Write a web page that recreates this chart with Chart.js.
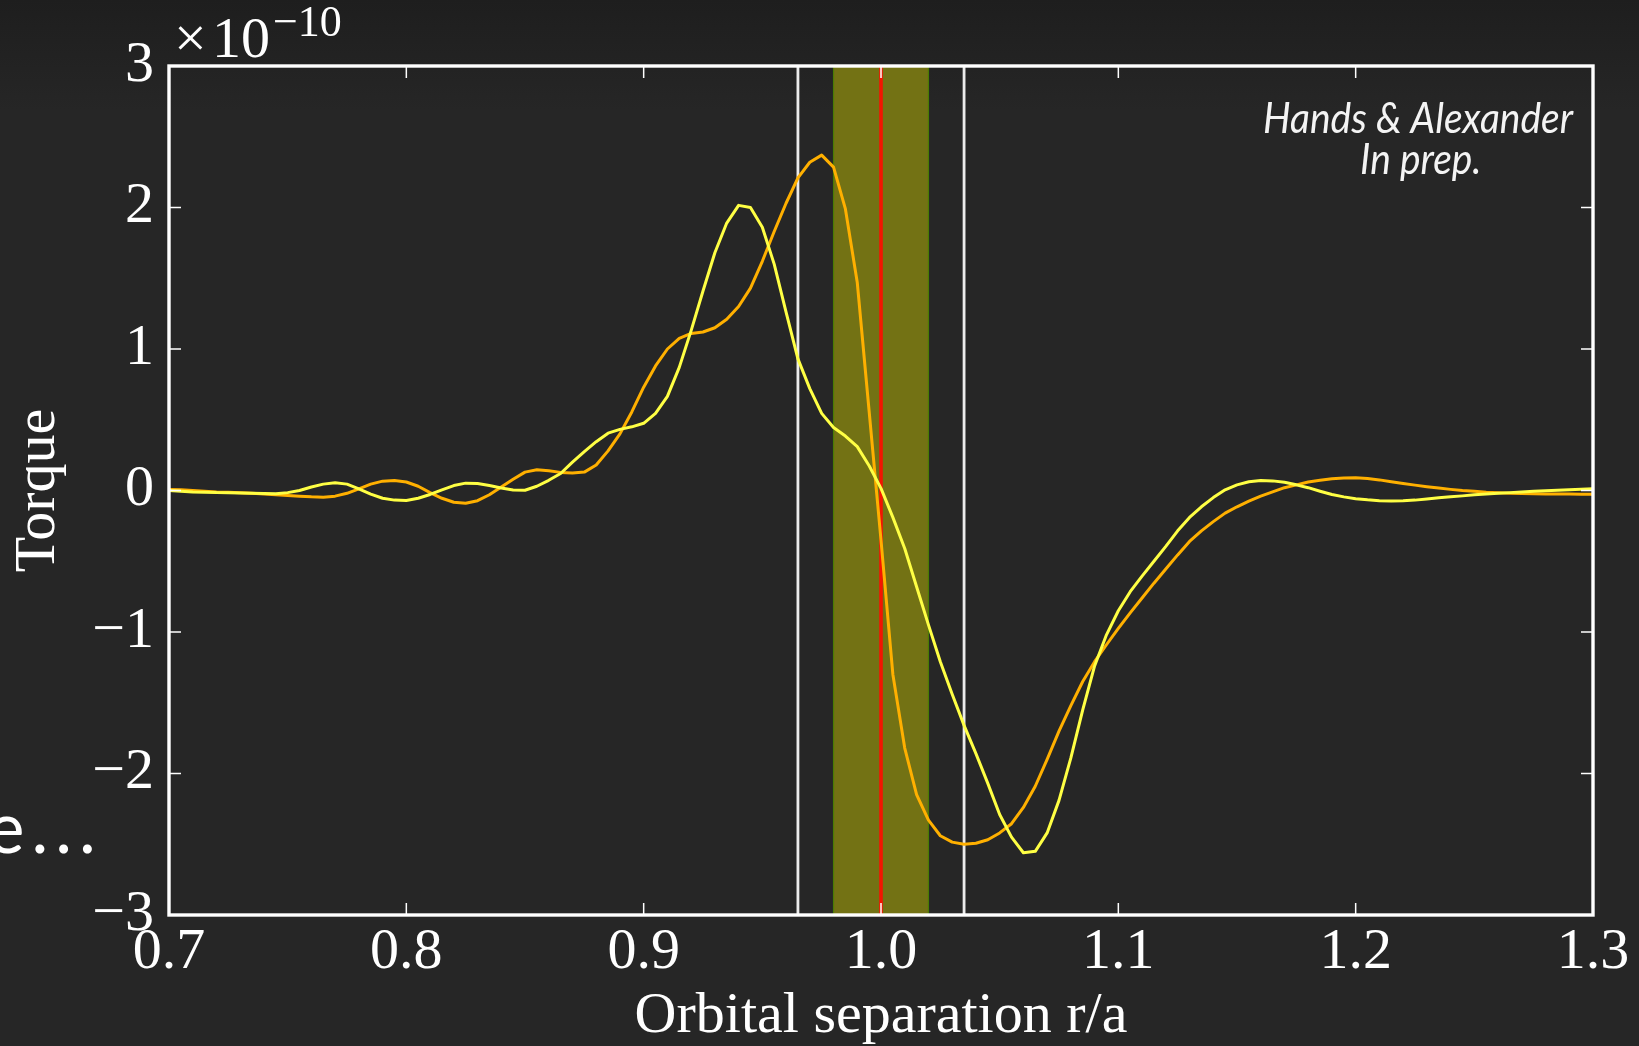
<!DOCTYPE html>
<html>
<head>
<meta charset="utf-8">
<title>Torque vs orbital separation</title>
<script src="https://cdn.jsdelivr.net/npm/chart.js@4.4.1/dist/chart.umd.min.js"></script>
<style>
  html, body { margin: 0; padding: 0; background: #262626; overflow: hidden; }
  #wrap { width: 1639px; height: 1046px; }
</style>
</head>
<body>
<div id="wrap"><canvas id="torqueChart" width="1639" height="1046"></canvas></div>
<script>
/* ---------------- DATA ---------------- */

// orbital separation r/a, sampled every 0.005
const separation = [
  0.700, 0.705, 0.710, 0.715, 0.720, 0.725, 0.730, 0.735, 0.740, 0.745,
  0.750, 0.755, 0.760, 0.765, 0.770, 0.775, 0.780, 0.785, 0.790, 0.795,
  0.800, 0.805, 0.810, 0.815, 0.820, 0.825, 0.830, 0.835, 0.840, 0.845,
  0.850, 0.855, 0.860, 0.865, 0.870, 0.875, 0.880, 0.885, 0.890, 0.895,
  0.900, 0.905, 0.910, 0.915, 0.920, 0.925, 0.930, 0.935, 0.940, 0.945,
  0.950, 0.955, 0.960, 0.965, 0.970, 0.975, 0.980, 0.985, 0.990, 0.995,
  1.000, 1.005, 1.010, 1.015, 1.020, 1.025, 1.030, 1.035, 1.040, 1.045,
  1.050, 1.055, 1.060, 1.065, 1.070, 1.075, 1.080, 1.085, 1.090, 1.095,
  1.100, 1.105, 1.110, 1.115, 1.120, 1.125, 1.130, 1.135, 1.140, 1.145,
  1.150, 1.155, 1.160, 1.165, 1.170, 1.175, 1.180, 1.185, 1.190, 1.195,
  1.200, 1.205, 1.210, 1.215, 1.220, 1.225, 1.230, 1.235, 1.240, 1.245,
  1.250, 1.255, 1.260, 1.265, 1.270, 1.275, 1.280, 1.285, 1.290, 1.295,
  1.300
];

// torque in units of 1e-10
const torqueYellow = [
  0.000, -0.005, -0.010, -0.012, -0.015, -0.016, -0.018, -0.020, -0.022, -0.023,
  -0.015, 0.000, 0.025, 0.045, 0.054, 0.045, 0.012, -0.025, -0.055, -0.068,
  -0.070, -0.055, -0.028, 0.005, 0.035, 0.052, 0.050, 0.035, 0.018, 0.004,
  0.002, 0.030, 0.072, 0.120, 0.200, 0.275, 0.345, 0.405, 0.432, 0.450,
  0.475, 0.545, 0.665, 0.870, 1.130, 1.410, 1.680, 1.890, 2.015, 2.000,
  1.860, 1.600, 1.260, 0.930, 0.720, 0.545, 0.445, 0.385, 0.310, 0.175,
  0.015, -0.190, -0.410, -0.680, -0.950, -1.210, -1.440, -1.660, -1.860, -2.070,
  -2.290, -2.450, -2.560, -2.550, -2.420, -2.190, -1.890, -1.550, -1.240, -1.020,
  -0.850, -0.715, -0.605, -0.500, -0.395, -0.285, -0.190, -0.115, -0.050, 0.005,
  0.040, 0.062, 0.071, 0.068, 0.058, 0.040, 0.020, -0.005, -0.028, -0.045,
  -0.058, -0.066, -0.072, -0.075, -0.073, -0.068, -0.060, -0.052, -0.045, -0.038,
  -0.030, -0.025, -0.020, -0.015, -0.010, -0.006, -0.002, 0.002, 0.006, 0.009,
  0.012
];

const torqueOrange = [
  0.007, 0.005, 0.000, -0.005, -0.010, -0.013, -0.016, -0.020, -0.025, -0.030,
  -0.035, -0.040, -0.045, -0.047, -0.040, -0.020, 0.012, 0.045, 0.066, 0.070,
  0.060, 0.030, -0.015, -0.055, -0.083, -0.090, -0.072, -0.030, 0.025, 0.080,
  0.130, 0.146, 0.140, 0.128, 0.124, 0.130, 0.180, 0.280, 0.400, 0.555,
  0.730, 0.880, 1.000, 1.075, 1.110, 1.120, 1.150, 1.210, 1.300, 1.430,
  1.620, 1.830, 2.030, 2.210, 2.320, 2.370, 2.285, 1.990, 1.470, 0.560,
  -0.350, -1.300, -1.820, -2.150, -2.330, -2.440, -2.485, -2.500, -2.493, -2.468,
  -2.420, -2.355, -2.240, -2.090, -1.900, -1.700, -1.520, -1.350, -1.210, -1.090,
  -0.975, -0.865, -0.760, -0.655, -0.555, -0.455, -0.360, -0.285, -0.220, -0.160,
  -0.115, -0.075, -0.040, -0.010, 0.020, 0.040, 0.060, 0.073, 0.083, 0.089,
  0.090, 0.085, 0.075, 0.062, 0.050, 0.038, 0.027, 0.017, 0.008, 0.000,
  -0.006, -0.012, -0.016, -0.019, -0.021, -0.023, -0.024, -0.025, -0.025, -0.026,
  -0.026
];

// ticks
const xTickValues = [0.7, 0.8, 0.9, 1.0, 1.1, 1.2, 1.3];
const xTickLabels = ["0.7", "0.8", "0.9", "1.0", "1.1", "1.2", "1.3"];
const yTickValues = [-3, -2, -1, 0, 1, 2, 3];
const yTickLabels = ["\u22123", "\u22122", "\u22121", "0", "1", "2", "3"];

// vertical markers
const whiteLines = [0.965, 1.035];
const redLine = [1.0];
const bandRange = [0.98, 1.02];

/* ---------------- STYLE ---------------- */

const SERIF = "'Liberation Serif', 'DejaVu Serif', serif";
const SANS = "Lato, 'Open Sans', sans-serif";
const WHITE = "#ffffff";

/* ---------------- DRAWING PLUGIN ---------------- */

const decor = {
  id: "decor",

  beforeDraw(chart) {
    const { ctx, width, height } = chart;
    const g = ctx.createLinearGradient(0, 0, 0, 110);
    g.addColorStop(0, "#1e1e1e");
    g.addColorStop(1, "#262626");
    ctx.save();
    ctx.fillStyle = g;
    ctx.fillRect(0, 0, width, height);
    ctx.restore();
  },

  beforeDatasetsDraw(chart) {
    const { ctx, chartArea: a, scales: { x } } = chart;
    ctx.save();

    // shaded band
    const b0 = x.getPixelForValue(bandRange[0]);
    const b1 = x.getPixelForValue(bandRange[1]);
    ctx.fillStyle = "#737214";
    ctx.fillRect(b0, a.top, b1 - b0, a.bottom - a.top);
    ctx.strokeStyle = "#4b7c02";
    ctx.lineWidth = 1.2;
    ctx.strokeRect(b0, a.top, b1 - b0, a.bottom - a.top);

    // white markers
    ctx.strokeStyle = "#ebebeb";
    ctx.lineWidth = 2.8;
    whiteLines.forEach(v => {
      const px = x.getPixelForValue(v);
      ctx.beginPath();
      ctx.moveTo(px, a.top);
      ctx.lineTo(px, a.bottom);
      ctx.stroke();
    });

    // planet position
    ctx.strokeStyle = "#f41400";
    ctx.lineWidth = 3.6;
    redLine.forEach(v => {
      const px = x.getPixelForValue(v);
      ctx.beginPath();
      ctx.moveTo(px, a.top);
      ctx.lineTo(px, a.bottom);
      ctx.stroke();
    });

    ctx.restore();
  },

  afterDraw(chart) {
    const { ctx, chartArea: a, scales: { x, y } } = chart;
    ctx.save();

    // inner ticks on all four sides
    ctx.strokeStyle = WHITE;
    ctx.lineWidth = 1.5;
    const tl = 12;
    xTickValues.forEach(v => {
      const px = x.getPixelForValue(v);
      ctx.beginPath();
      ctx.moveTo(px, a.bottom);
      ctx.lineTo(px, a.bottom - tl);
      ctx.moveTo(px, a.top);
      ctx.lineTo(px, a.top + tl);
      ctx.stroke();
    });
    yTickValues.forEach(v => {
      const py = y.getPixelForValue(v);
      ctx.beginPath();
      ctx.moveTo(a.left, py);
      ctx.lineTo(a.left + tl, py);
      ctx.moveTo(a.right, py);
      ctx.lineTo(a.right - tl, py);
      ctx.stroke();
    });

    // frame
    ctx.lineWidth = 3.4;
    ctx.strokeRect(a.left, a.top, a.right - a.left, a.bottom - a.top);

    // tick labels
    ctx.fillStyle = WHITE;
    ctx.font = "58px " + SERIF;
    ctx.textBaseline = "alphabetic";
    ctx.textAlign = "center";
    xTickValues.forEach((v, i) => {
      ctx.fillText(xTickLabels[i], x.getPixelForValue(v), a.bottom + 53);
    });
    ctx.textAlign = "right";
    yTickValues.forEach((v, i) => {
      ctx.fillText(yTickLabels[i], a.left - 15, y.getPixelForValue(v) + 14.5);
    });

    // offset text  x10^-10 (mathtext-like spacing)
    ctx.textAlign = "left";
    ctx.font = "58px " + SERIF;
    ctx.fillText("\u00d7", a.left + 5, a.top - 9);
    ctx.fillText("10", a.left + 43, a.top - 9);
    ctx.font = "44px " + SERIF;
    ctx.fillText("\u221210", a.left + 104, a.top - 30);

    // axis titles
    ctx.font = "58px " + SERIF;
    ctx.textAlign = "center";
    ctx.fillText("Orbital separation r/a", (a.left + a.right) / 2, 1032);

    ctx.save();
    ctx.translate(54, (a.top + a.bottom) / 2);
    ctx.rotate(-Math.PI / 2);
    ctx.fillText("Torque", 0, 0);
    ctx.restore();

    // annotation
    ctx.font = "italic 42px " + SANS;
    const w1 = ctx.measureText("Hands & Alexander").width;
    const sx = 310 / w1;
    ctx.save();
    ctx.translate(1418, 0);
    ctx.scale(sx, 1);
    ctx.textAlign = "center";
    ctx.fillStyle = "#f4f4f4";
    ctx.fillText("Hands & Alexander", 0, 133);
    ctx.fillText("In prep.", 3, 174);
    ctx.restore();

    // clipped slide text at the left edge
    ctx.font = "71px " + SANS;
    ctx.textAlign = "left";
    ctx.letterSpacing = "7px";
    ctx.fillText("e...", -13, 853);
    ctx.letterSpacing = "0px";

    ctx.restore();
  }
};

/* ---------------- CHART ---------------- */

const toPoints = vals => separation.map((s, i) => ({ x: s, y: vals[i] }));

new Chart(document.getElementById("torqueChart"), {
  type: "line",
  data: {
    datasets: [
      {
        label: "yellow",
        data: toPoints(torqueYellow),
        borderColor: "#ffff44",
        borderWidth: 3,
        pointRadius: 0,
        tension: 0,
        borderJoinStyle: "round"
      },
      {
        label: "orange",
        data: toPoints(torqueOrange),
        borderColor: "#ffb000",
        borderWidth: 3,
        pointRadius: 0,
        tension: 0,
        borderJoinStyle: "round"
      }
    ]
  },
  options: {
    responsive: false,
    animation: false,
    devicePixelRatio: 1,
    layout: { padding: { top: 66, right: 46, left: 0, bottom: 0 } },
    plugins: { legend: { display: false }, tooltip: { enabled: false } },
    scales: {
      x: {
        type: "linear",
        min: 0.7,
        max: 1.3,
        ticks: { display: false, stepSize: 0.1 },
        grid: { display: false },
        border: { display: false },
        afterFit: s => { s.height = 131; }
      },
      y: {
        type: "linear",
        min: -3,
        max: 3,
        ticks: { display: false, stepSize: 1 },
        grid: { display: false },
        border: { display: false },
        afterFit: s => { s.width = 169; }
      }
    }
  },
  plugins: [decor]
});
</script>
</body>
</html>
